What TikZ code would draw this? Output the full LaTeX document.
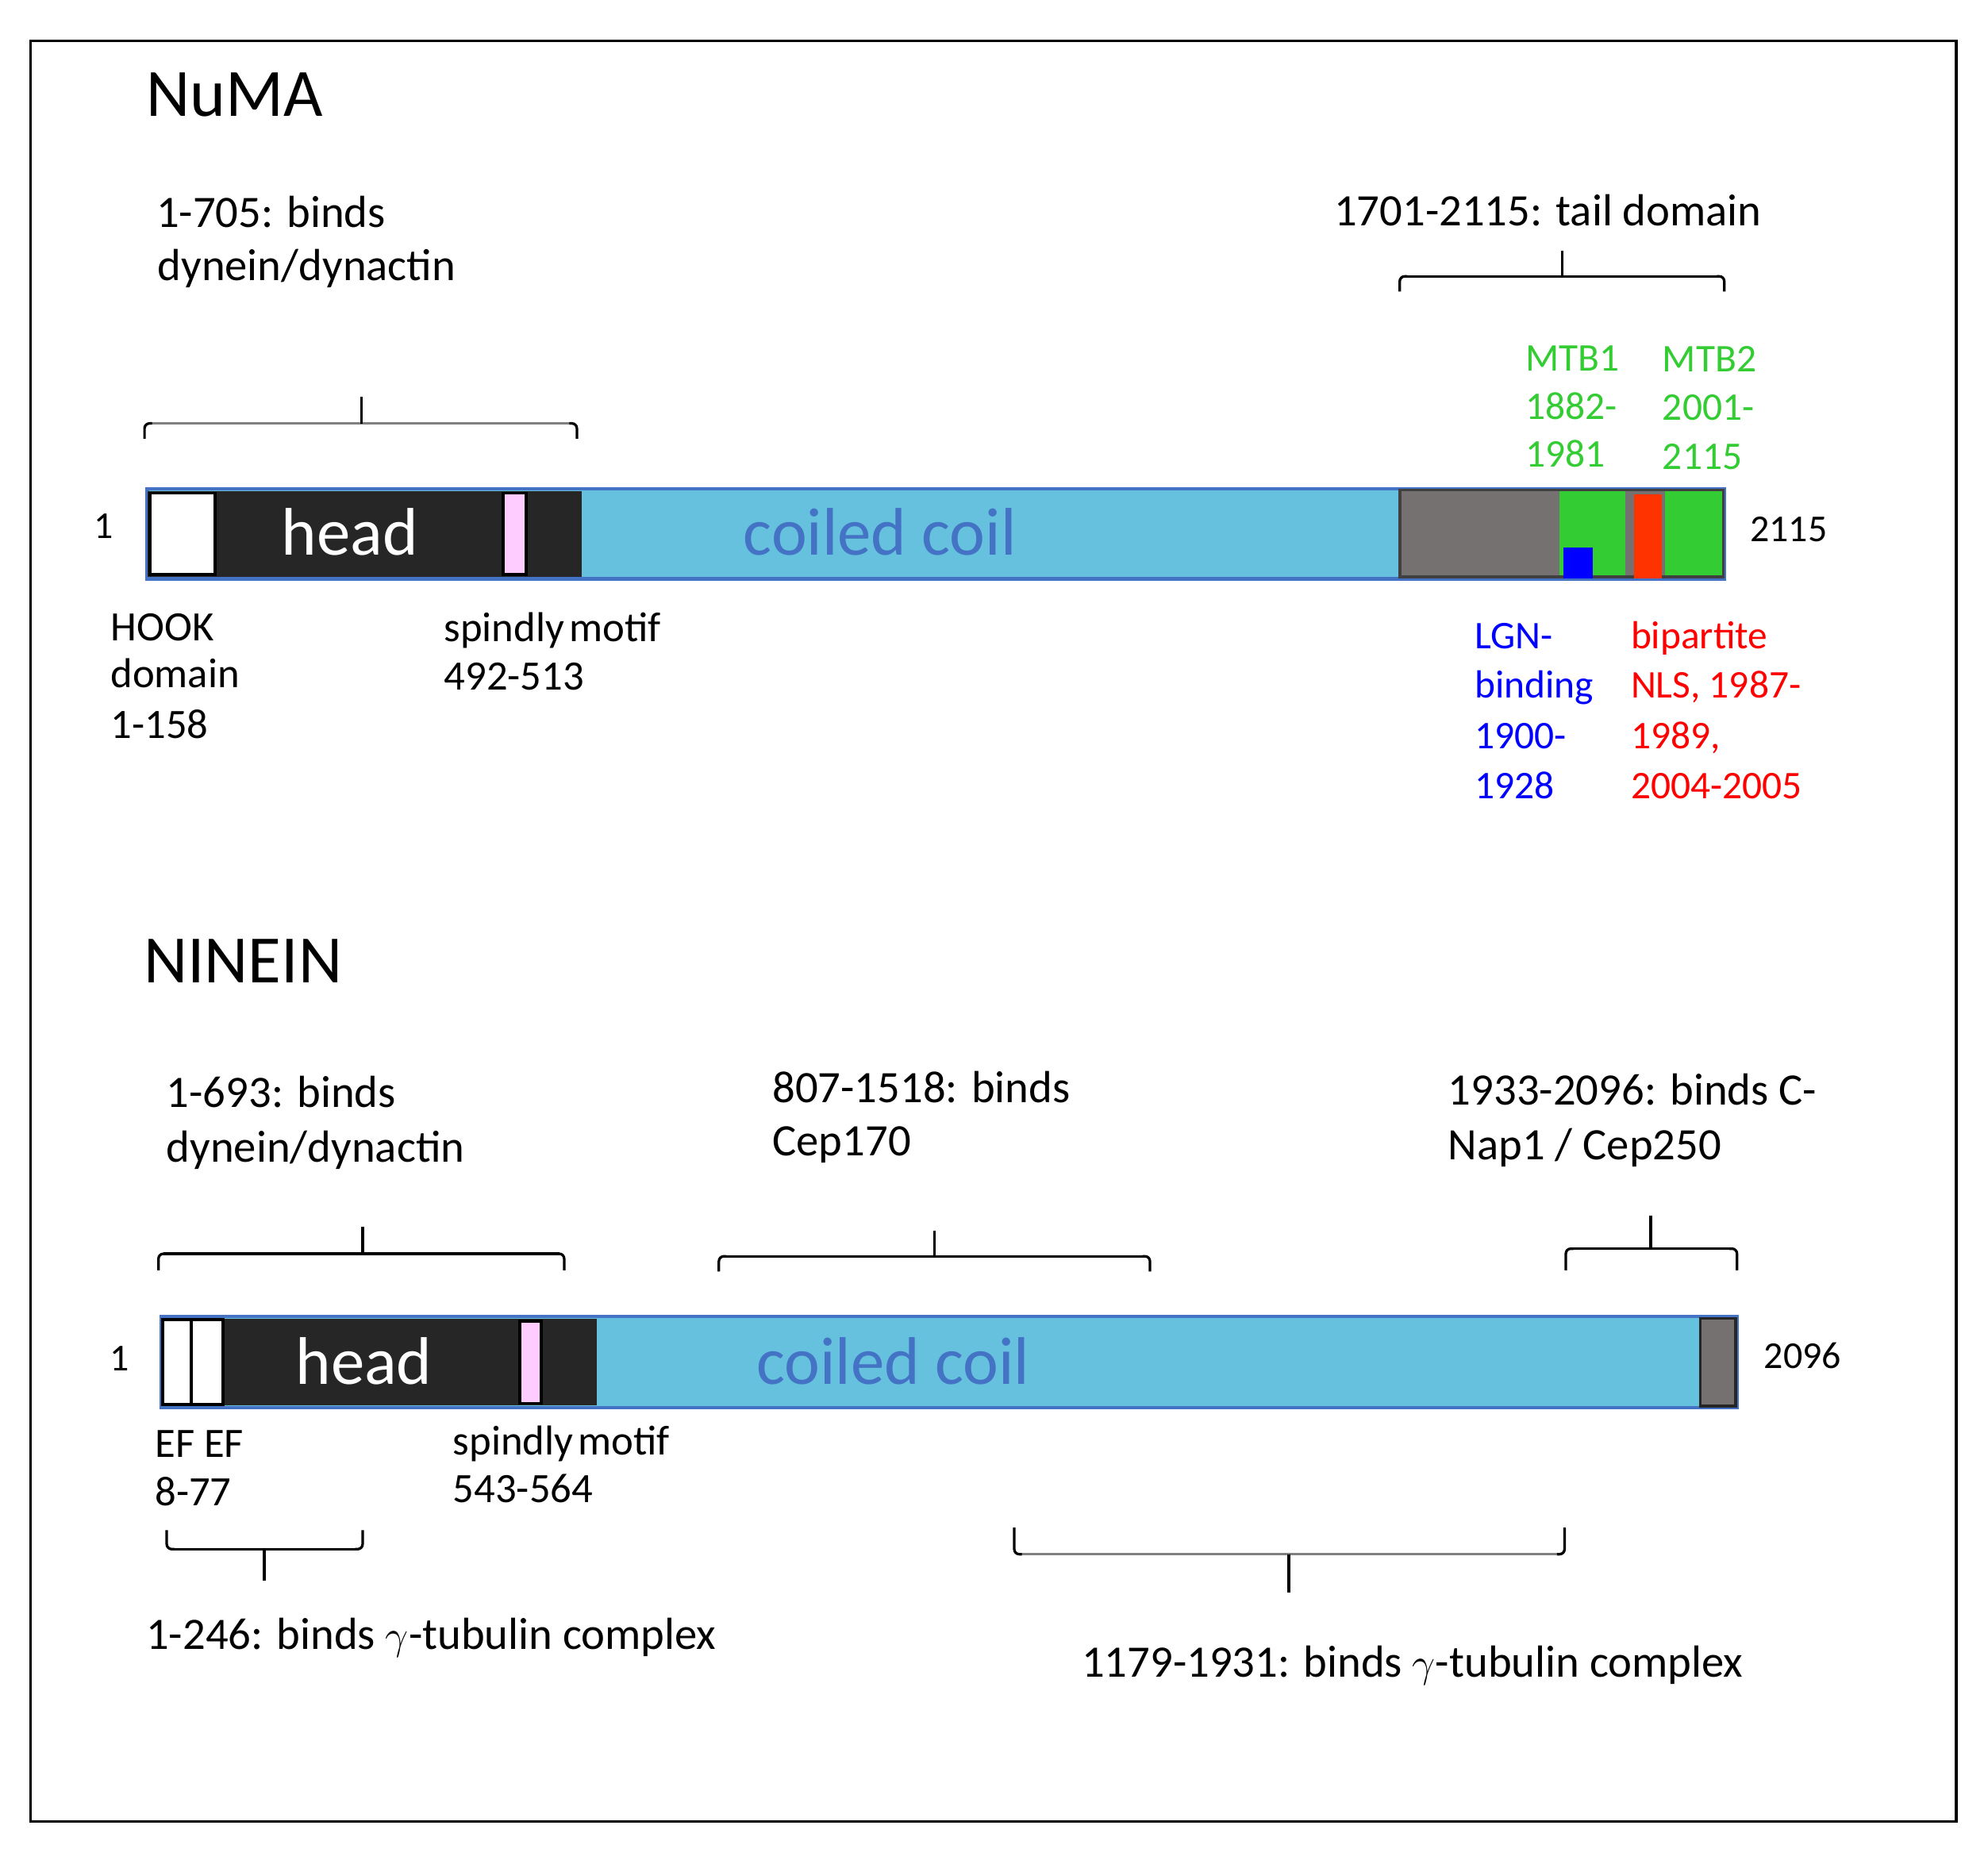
\documentclass[tikz,border=0pt]{standalone}
\usepackage{fontspec}
\setmainfont{Carlito}
\definecolor{cyanbar}{HTML}{65C1DD}
\definecolor{barblue}{HTML}{4472C4}
\definecolor{headblack}{HTML}{262626}
\definecolor{pinkbox}{HTML}{FFCCFF}
\definecolor{tailgray}{HTML}{767171}
\definecolor{tailedge}{HTML}{404040}
\definecolor{mtbgreen}{HTML}{33CC33}
\definecolor{nlsred}{HTML}{FF3300}
\definecolor{lgnblue}{HTML}{0000FF}
\definecolor{txtred}{HTML}{FF0000}
\definecolor{brgray}{HTML}{808080}
\tikzset{
  lbl/.style={inner sep=0pt, anchor=base west, font=\fontsize{22.7pt}{27pt}\selectfont},
  sml/.style={inner sep=0pt, anchor=base west, font=\fontsize{21.1pt}{25pt}\selectfont},
  col/.style={inner sep=0pt, anchor=base west, font=\fontsize{19.8pt}{24pt}\selectfont},
  num/.style={inner sep=0pt, font=\fontsize{19.2pt}{23pt}\selectfont},
  ttl/.style={inner sep=0pt, anchor=base west, font=\fontsize{34.2pt}{40pt}\selectfont},
  bartxt/.style={inner sep=0pt, anchor=base, font=\fontsize{34pt}{40pt}\selectfont},
  brc/.style={line width=1.3pt},
  boxedge/.style={line width=1.5pt},
}
\newcommand\brk[7]{%
  \draw[brc,#7] (#1+4,#4) -- (#2-4,#4);
  \draw[brc,rounded corners=2.5pt] (#1,#5) -- (#1,#4) -- (#1+6,#4);
  \draw[brc,rounded corners=2.5pt] (#2,#5) -- (#2,#4) -- (#2-6,#4);
  \draw[brc] (#3,#4) -- (#3,#6);
}
\begin{document}
\begin{tikzpicture}[x=0.64pt,y=-0.64pt]
\useasboundingbox (0,0) rectangle (1568,1464);
\fill[white] (0,0) rectangle (1568,1464);
\draw[line width=1.3pt] (24,32) rectangle (1543,1437);

% ===================== NuMA =====================
\node[ttl] (numatitle) at (115,92) {NuMA};
\node[lbl] (n705a) at (123,179.5) {1-705: binds};
\node[lbl] (n705b) at (124,221) {dynein/dynactin};
\node[lbl] (ntail) at (1052,178) {1701-2115: tail domain};

\brk{114}{455}{285}{334}{346}{313}{brgray}
\brk{1104}{1360}{1232}{218}{230}{198}{black}

\node[col, text=mtbgreen] (mtb1a) at (1203,292.5) {MTB1};
\node[col, text=mtbgreen] (mtb1b) at (1203,330.5) {1882-};
\node[col, text=mtbgreen] (mtb1c) at (1203,368.5) {1981};
\node[col, text=mtbgreen] (mtb2a) at (1311,293.5) {MTB2};
\node[col, text=mtbgreen] (mtb2b) at (1311,331.5) {2001-};
\node[col, text=mtbgreen] (mtb2c) at (1311,370.5) {2115};

% bar
\draw[fill=cyanbar, draw=barblue, line width=1.8pt] (116,385.5) rectangle (1360,456.5);
\draw[fill=headblack, draw=headblack, line width=1pt] (117,388) rectangle (458,454);
\draw[boxedge, fill=white, draw=black] (118.5,389) rectangle (169.5,453);
\draw[boxedge, fill=pinkbox, draw=black] (397,389) rectangle (415,453);
\draw[boxedge, fill=tailgray, draw=tailedge] (1104,386.5) rectangle (1359,455);
\fill[mtbgreen] (1230,387.5) rectangle (1282,454);
\fill[nlsred] (1289,390) rectangle (1311,456);
\fill[mtbgreen] (1313,387.5) rectangle (1358,454);
\fill[lgnblue] (1233,432) rectangle (1256,456);

\node[bartxt, text=white] (nhead) at (276,438) {head};
\node[bartxt, text=barblue] (ncoil) at (694,438) {coiled coil};

\node[num, anchor=base] (nstart) at (82,424.5) {1};
\node[num, anchor=base west] (nend) at (1380,427.5) {2115};

\node[sml] (hook1) at (87,505.5) {HOOK};
\node[sml] (hook2) at (87,542.5) {domain};
\node[sml] (hook3) at (87,582.5) {1-158};
\node[sml] (spn1) at (350,506) {spindly\hspace{0.12em}motif};
\node[sml] (spn2) at (350,544.5) {492-513};

\node[col, text=lgnblue] (lgn1) at (1163,512) {LGN-};
\node[col, text=lgnblue] (lgn2) at (1163,550.5) {binding};
\node[col, text=lgnblue] (lgn3) at (1163,590.5) {1900-};
\node[col, text=lgnblue] (lgn4) at (1163,630) {1928};
\node[col, text=txtred] (nls1) at (1286,512) {bipartite};
\node[col, text=txtred] (nls2) at (1286,550.5) {NLS, 1987-};
\node[col, text=txtred] (nls3) at (1286,590.5) {1989,};
\node[col, text=txtred] (nls4) at (1286,630) {2004-2005};

% ===================== NINEIN =====================
\node[ttl] (nintitle) at (113,775) {NINEIN};
\node[lbl] (i693a) at (131,873.5) {1-693: binds};
\node[lbl] (i693b) at (131,916.5) {dynein/dynactin};
\node[lbl] (i807a) at (609,869.5) {807-1518: binds};
\node[lbl] (i807b) at (609,911.5) {Cep170};
\node[lbl] (i1933a) at (1142,871.5) {1933-2096: binds C-};
\node[lbl] (i1933b) at (1142,914.5) {Nap1 / Cep250};

\brk{125}{445}{286}{989}{1002}{968}{black}
\brk{567}{907}{737}{991}{1003}{971}{black}
\brk{1235}{1370}{1302}{985}{1002}{959}{black}

% bar
\draw[fill=cyanbar, draw=barblue, line width=1.8pt] (127,1038.5) rectangle (1370,1110.5);
\draw[fill=headblack, draw=headblack, line width=1pt] (128,1041) rectangle (470,1108);
\draw[boxedge, fill=white, draw=black] (128.5,1041) rectangle (151,1108);
\draw[boxedge, fill=white, draw=black] (151,1041) rectangle (176,1108);
\draw[boxedge, fill=pinkbox, draw=black] (410,1042) rectangle (427,1107);
\draw[boxedge, fill=tailgray, draw=headblack] (1341,1040) rectangle (1369,1109);

\node[bartxt, text=white] (ihead) at (287,1092) {head};
\node[bartxt, text=barblue] (icoil) at (704.5,1092) {coiled coil};

\node[num, anchor=base] (istart) at (94,1081.5) {1};
\node[num, anchor=base west] (iend) at (1391,1079.5) {2096};

\node[sml] (ef1) at (122,1149.5) {EF EF};
\node[sml] (ef2) at (122,1187.5) {8-77};
\node[sml] (ispn1) at (357,1147.5) {spindly\hspace{0.12em}motif};
\node[sml] (ispn2) at (357,1185.5) {543-564};

\brk{131.5}{286}{208.5}{1222}{1207}{1247}{black}
\brk{800}{1234}{1016.5}{1226}{1205}{1256}{brgray}

\node[lbl] (g246) at (115,1301) {1-246: binds $\gamma$-tubulin complex};
\node[lbl] (g1179) at (853,1323) {1179-1931: binds $\gamma$-tubulin complex};
\end{tikzpicture}
\end{document}
